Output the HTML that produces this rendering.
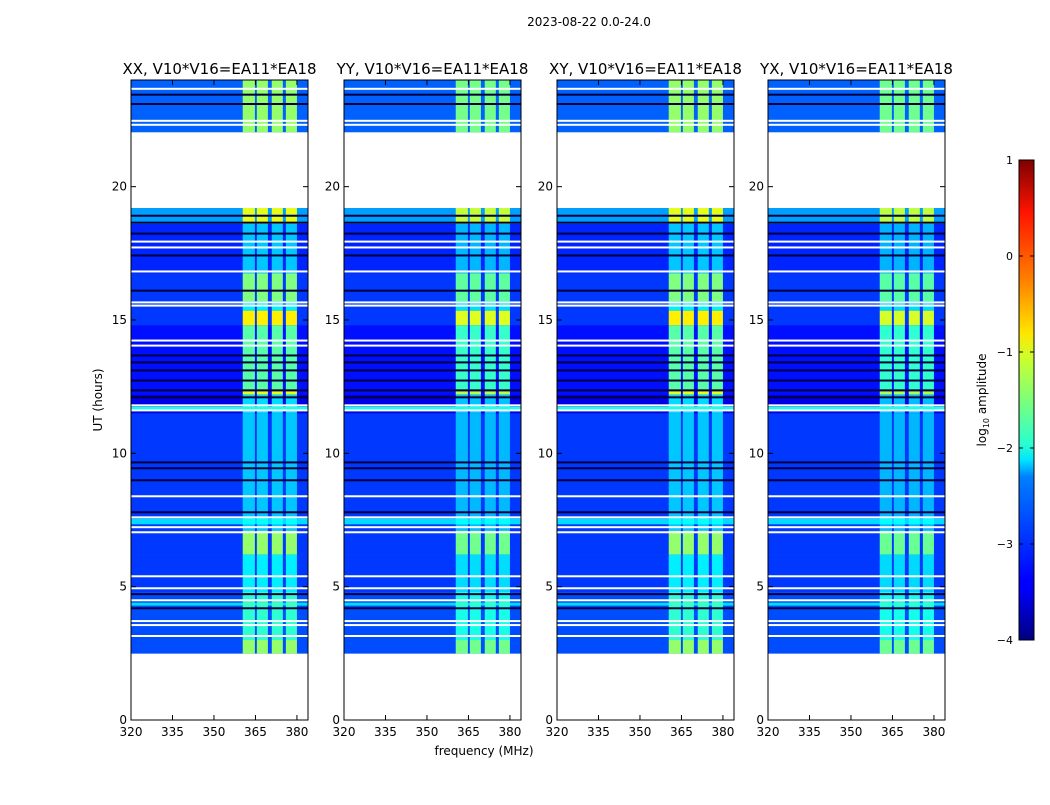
<!DOCTYPE html>
<html><head><meta charset="utf-8">
<style>
body{margin:0;background:#fff;}
svg text{font-family:"DejaVu Sans","Liberation Sans",sans-serif;fill:#000;}
</style></head>
<body>
<svg id="fig" width="1050" height="800" viewBox="0 0 1050 800" xmlns="http://www.w3.org/2000/svg">
<rect width="1050" height="800" fill="#fff"/>
<text x="589" y="26" font-size="12" text-anchor="middle">2023-08-22 0.0-24.0</text>
<text x="484" y="755" font-size="12" text-anchor="middle">frequency (MHz)</text>
<text transform="translate(102,400) rotate(-90)" font-size="12" text-anchor="middle">UT (hours)</text>
<g id="panels"></g>
<defs><linearGradient id="jet" x1="0" y1="1" x2="0" y2="0">
<stop offset="0" stop-color="#00007f"/><stop offset="0.11" stop-color="#0000ff"/><stop offset="0.125" stop-color="#0000ff"/>
<stop offset="0.34" stop-color="#0080ff"/><stop offset="0.375" stop-color="#00e5ff"/><stop offset="0.41" stop-color="#29ffce"/>
<stop offset="0.5" stop-color="#7dff7a"/><stop offset="0.59" stop-color="#ceff29"/><stop offset="0.64" stop-color="#ffe500"/>
<stop offset="0.75" stop-color="#ff8000"/><stop offset="0.89" stop-color="#ff1400"/><stop offset="1" stop-color="#7f0000"/>
</linearGradient></defs>
<g>
<rect x="1019" y="160" width="15" height="480" fill="url(#jet)" stroke="#000" stroke-width="1"/>
<g id="cbticks"></g>
<text transform="translate(986,400) rotate(-90)" font-size="12" text-anchor="middle">log<tspan font-size="8" dy="3">10</tspan><tspan dy="-3"> amplitude</tspan></text>
</g>
</svg>
<script>
// ---- data ----
const titles = ["XX, V10*V16=EA11*EA18","YY, V10*V16=EA11*EA18","XY, V10*V16=EA11*EA18","YX, V10*V16=EA11*EA18"];
const panelBandScale = [1.0, 0.9, 1.0, 0.88];
// time segments: start hour, end hour, background log10 amp, band log10 amp
const segStart = [22.05, 18.6, 16.75, 15.7, 15.35, 14.8, 12.4, 12.2, 11.5, 7.1, 6.2, 4.8, 3.0, 2.5, 7.35, 11.65, 4.3];
const segEnd   = [24.0, 19.2, 18.6, 16.75, 15.7, 15.35, 14.8, 12.4, 12.2, 11.5, 7.1, 6.2, 4.8, 3.0, 7.55, 11.75, 4.4];
const segBg    = [-2.9, -2.6, -3.2, -3.1, -3.1, -3.1, -3.3, -3.3, -3.5, -3.1, -3.1, -3.1, -3.0, -3.0, -2.3, -2.0, -2.3];
const segBand  = [-1.4, -1.0, -2.4, -1.5, -2.2, -0.8, -1.7, -1.0, -2.3, -2.4, -1.4, -2.2, -1.9, -1.4, -2.1, -2.0, -1.8];
// frequency bands (MHz) carrying signal
const bandLo = [360.4, 365.5, 370.9, 376.0];
const bandHi = [364.8, 369.5, 374.9, 380.0];
// flagged rows (white) and dropouts (dark)
const whiteRows = [23.67,22.47,22.32,17.94,17.72,16.82,15.66,15.54,14.23,14.04,11.8,11.61,8.39,7.6,7.23,7.04,5.39,4.94,4.49,3.71,3.56,3.15];
const darkRows = [23.45,23.1,18.91,18.65,18.24,17.42,16.1,13.67,13.41,13.11,12.73,12.36,12.1,9.66,9.44,8.99,7.79,4.72,4.19];
const yTicks = [0,5,10,15,20];
const xTicks = [320,335,350,365,380];
const cbTicks = [1,0,-1,-2,-3,-4];

// ---- layout ----
const panelX = [131,344,557,768], PW=177, PT=80, PB=720;
const fMin=320, fMax=384, tMax=24;
const sx=(f,i)=>panelX[i]+(f-fMin)/(fMax-fMin)*PW;
const sy=h=>PB-(h/tMax)*(PB-PT);
function jet(v){let t=Math.max(0,Math.min(1,(v+4)/5));
 const c=x=>Math.round(255*Math.max(0,Math.min(1,1.5-Math.abs(4*t-x))));
 return `rgb(${c(3)},${c(2)},${c(1)})`;}
const NS="http://www.w3.org/2000/svg";
function mk(tag,attrs,parent){const e=document.createElementNS(NS,tag);for(const k in attrs)e.setAttribute(k,attrs[k]);parent.appendChild(e);return e;}
const root=document.getElementById('panels');
titles.forEach((ttl,i)=>{
 const g=mk('g',{},root);
 
 
 const x0=panelX[i];
 for(let s=0;s<segStart.length;s++){
  const y1=sy(segEnd[s]),y2=sy(segStart[s]);
  const r=mk('rect',{x:x0,y:y1,width:PW,height:y2-y1+0.3,fill:jet(segBg[s])},g);
  
  
  const bv=segBg[s]+(segBand[s]-segBg[s])*panelBandScale[i];
  for(let b=0;b<bandLo.length;b++){
   const bx=sx(bandLo[b],i),bw=sx(bandHi[b],i)-bx;
   const br=mk('rect',{x:bx,y:y1,width:bw,height:y2-y1+0.3,fill:jet(bv)},g);
   
   
  }
 }
 darkRows.forEach(h=>{const l=mk('rect',{x:x0,y:sy(h)-1,width:PW,height:2,fill:'#00003a'},g);
  
  });
 whiteRows.forEach(h=>{const l=mk('rect',{x:x0,y:sy(h)-1,width:PW,height:2,fill:'#fff'},g);
  
  });
 const fr=mk('rect',{x:x0,y:PT,width:PW,height:PB-PT,fill:'none',stroke:'#000','stroke-width':1},g);
 
 
 const tt=mk('text',{x:x0+PW/2,y:74,'font-size':15,'text-anchor':'middle'},g);tt.textContent=ttl;
 
 
 yTicks.forEach(v=>{const y=sy(v);
  mk('line',{x1:x0,x2:x0+5,y1:y,y2:y,stroke:'#000'},g);
  mk('line',{x1:x0+PW-5,x2:x0+PW,y1:y,y2:y,stroke:'#000'},g);
  const t=mk('text',{x:x0-4,y:y+4,'font-size':12,'text-anchor':'end'},g);t.textContent=v;
  
  });
 xTicks.forEach(v=>{const x=sx(v,i);
  mk('line',{x1:x,x2:x,y1:PB,y2:PB-5,stroke:'#000'},g);
  mk('line',{x1:x,x2:x,y1:PT,y2:PT+5,stroke:'#000'},g);
  const t=mk('text',{x:x,y:PB+16,'font-size':12,'text-anchor':'middle'},g);t.textContent=v;
  
  });
});
const cb=document.getElementById('cbticks');
cbTicks.forEach(v=>{const y=160+(1-v)/5*480;
 mk('line',{x1:1019,x2:1023,y1:y,y2:y,stroke:'#000'},cb);
 mk('line',{x1:1030,x2:1034,y1:y,y2:y,stroke:'#000'},cb);
 const t=mk('text',{x:1013,y:y+4,'font-size':11,'text-anchor':'end'},cb);t.textContent=v<0?'\u2212'+(-v):v;
 
 });
</script>
</body></html>
